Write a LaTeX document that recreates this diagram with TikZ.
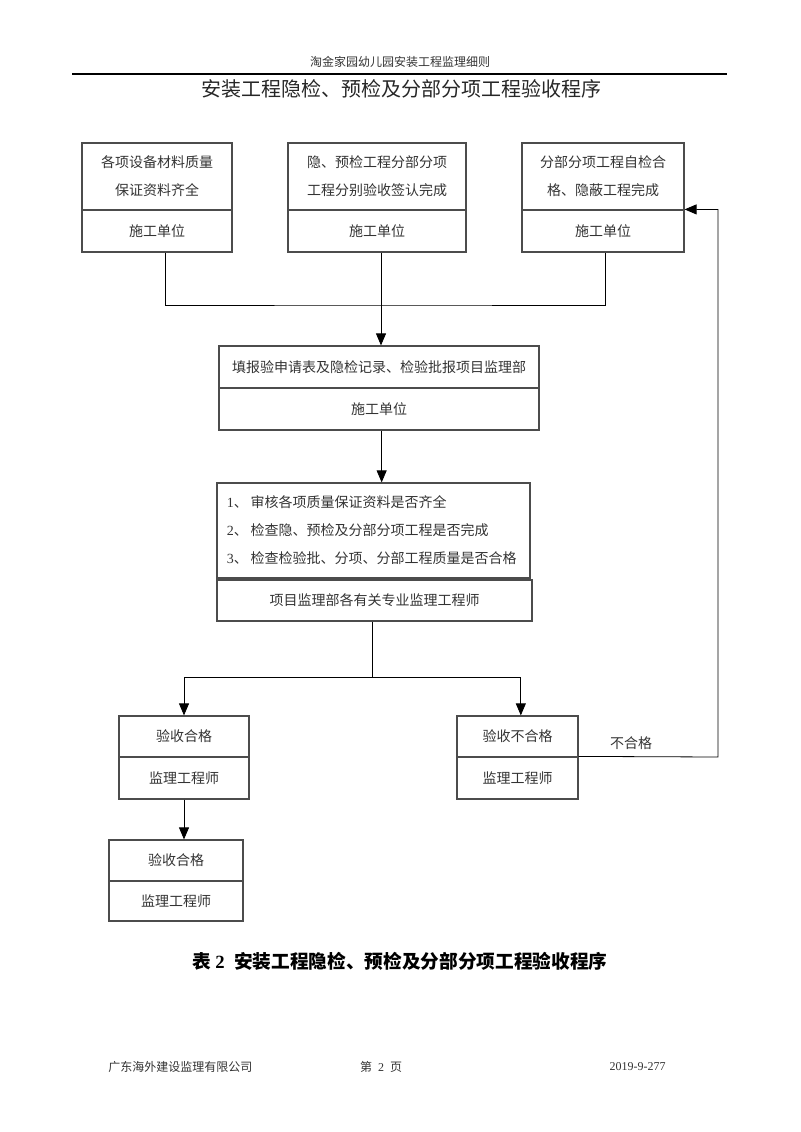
\documentclass[tikz,border=0pt]{standalone}
\usepackage{fontspec}
\setmainfont{Liberation Serif}
\newfontfamily\cjk{Noto Sans CJK SC}
\usetikzlibrary{arrows.meta}

\begin{document}
\begin{tikzpicture}[x=0.75pt, y=-0.75pt, line width=0.6pt,
    box/.style={draw=black!70, line width=0.9pt, inner sep=0pt, align=center, text=black!80,
                font=\cjk\fontsize{10.5}{21}\selectfont},
    note/.style={inner sep=0pt, text=black!80, font=\cjk\fontsize{10.5}{21}\selectfont},
    arr/.style={-{Triangle[length=9pt, width=7.5pt]}}]
    \useasboundingbox (0, 0) rectangle (800, 1132);

    % draw page header
    \node[note, font=\cjk\fontsize{9}{11}\selectfont] (head) at (400, 62) {淘金家园幼儿园安装工程监理细则};
    \coordinate (hl) at (72, 74);
    \coordinate (hr) at (727, 74);
    \draw[line width=1.2pt] (hl) -- (hr);
    \node[note, text=black!85, font=\cjk\fontsize{15}{18}\selectfont] (title) at (401, 89) {安装工程隐检、预检及分部分项工程验收程序};

    % draw top row boxes
    \node[box, minimum width=112.5pt, minimum height=50.25pt] (b1t) at (157, 176.5) {各项设备材料质量\\保证资料齐全};
    \node[box, minimum width=112.5pt, minimum height=31.5pt]  (b1b) at (157, 231) {施工单位};
    \node[box, minimum width=133.5pt, minimum height=50.25pt] (b2t) at (377, 176.5) {隐、预检工程分部分项\\工程分别验收签认完成};
    \node[box, minimum width=133.5pt, minimum height=31.5pt]  (b2b) at (377, 231) {施工单位};
    \node[box, minimum width=121.5pt, minimum height=50.25pt] (b3t) at (603, 176.5) {分部分项工程自检合\\格、隐蔽工程完成};
    \node[box, minimum width=121.5pt, minimum height=31.5pt]  (b3b) at (603, 231) {施工单位};

    % draw application box
    \node[box, minimum width=240pt, minimum height=31.5pt] (b4t) at (379, 367) {填报验申请表及隐检记录、检验批报项目监理部};
    \node[box, minimum width=240pt, minimum height=31.5pt] (b4b) at (379, 409) {施工单位};

    % draw check box
    \node[box, minimum width=234.75pt, minimum height=71.25pt, text width=220pt, align=left] (b5) at (373.5, 530.5)
        {{\rmfamily 1}、\hspace{0.2em}审核各项质量保证资料是否齐全\\{\rmfamily 2}、\hspace{0.2em}检查隐、预检及分部分项工程是否完成\\{\rmfamily 3}、\hspace{0.2em}检查检验批、分项、分部工程质量是否合格};
    \node[box, minimum width=236.25pt, minimum height=30.75pt] (b5s) at (374.5, 600.5) {项目监理部各有关专业监理工程师};

    % draw result boxes
    \node[box, minimum width=97.5pt, minimum height=30.75pt]  (b6t) at (184, 736.5) {验收合格};
    \node[box, minimum width=97.5pt, minimum height=31.5pt]   (b6b) at (184, 778) {监理工程师};
    \node[box, minimum width=90.75pt, minimum height=30.75pt] (b7t) at (517.5, 736.5) {验收不合格};
    \node[box, minimum width=90.75pt, minimum height=31.5pt]  (b7b) at (517.5, 778) {监理工程师};
    \node[box, minimum width=100.5pt, minimum height=30.75pt] (b8t) at (176, 860.5) {验收合格};
    \node[box, minimum width=100.5pt, minimum height=30pt]    (b8b) at (176, 901) {监理工程师};

    % draw connectors
    \coordinate (merge) at (381, 305);
    \coordinate (split) at (372, 677);
    \coordinate (back) at (718, 757);
    \draw ([xshift=6pt]b1b.south) |- (merge) -| ([xshift=2pt]b3b.south);
    \draw[arr] ([xshift=3pt]b2b.south) -- ([xshift=3pt]b2b.south |- b4t.north);
    \draw[arr] ([xshift=2pt]b4b.south) -- ([xshift=2pt]b4b.south |- b5.north);
    \draw (b5s.south -| split) -- (split);
    \draw[arr] (split) -| (b6t.north);
    \draw[arr] (split) -| ([xshift=2.5pt]b7t.north);
    \draw[arr] (b6b.south) -- (b6b.south |- b8t.north);
    \draw[arr] (b7b.north east) -- (back) |- (b3b.north east);
    \node[note] (fail) at (631, 743) {不合格};

    % draw caption and footer
    \node[note, text=black, font=\cjk\bfseries\fontsize{14}{17}\selectfont] (cap) at (400, 961) {表 {\rmfamily 2}\enspace 安装工程隐检、预检及分部分项工程验收程序};
    \node[note, anchor=west, font=\cjk\fontsize{9}{11}\selectfont] (foot1) at (108, 1067) {广东海外建设监理有限公司};
    \node[note, font=\cjk\fontsize{9}{11}\selectfont] (foot2) at (381, 1067) {第\enspace{\rmfamily 2}\enspace 页};
    \node[note, anchor=east, font=\rmfamily\fontsize{9}{11}\selectfont] (foot3) at (666, 1067) {2019-9-277};
\end{tikzpicture}
\end{document}
